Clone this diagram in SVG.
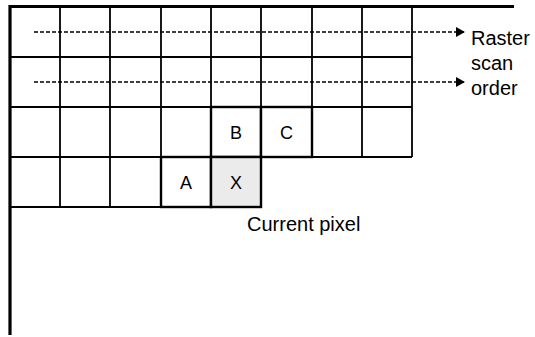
<svg xmlns="http://www.w3.org/2000/svg" width="535" height="337" viewBox="0 0 535 337">
<style>
.g{stroke:#000;stroke-width:1.8;fill:none}
.ax{stroke:#000;stroke-width:3.2;fill:none}
.cell{fill:#fff;stroke:#000;stroke-width:2.4}
.cur{fill:#ebebeb;stroke:#000;stroke-width:2.4}
.lbl{font-family:"Liberation Sans",Arial,sans-serif;font-size:18px;fill:#000;text-anchor:middle}
.txt{font-family:"Liberation Sans",Arial,sans-serif;font-size:20px;fill:#000}
.dash{stroke:#000;stroke-width:1.5;stroke-dasharray:4 2;fill:none}
</style>
<defs>
<marker id="ah" markerWidth="9" markerHeight="10" refX="9" refY="5" orient="auto" markerUnits="userSpaceOnUse">
<path d="M0,0 L9,5 L0,10 Z" fill="#000"/>
</marker>
</defs>
<g id="grid">
<path class="g" d="M10,57H412 M10,107H412 M10,157H412 M10,207H261 M60,7V207 M110,7V207 M161,7V207 M211,7V207 M261,7V207 M312,7V157 M362,7V157 M412,7V157"/>
<path class="ax" d="M8.5,6.5H514 M10,5V335"/>
</g>
<g id="cellB"><rect class="cell" x="211" y="107" width="50" height="50"/><text class="lbl" x="236" y="138.5">B</text></g>
<g id="cellC"><rect class="cell" x="261" y="107" width="51" height="50"/><text class="lbl" x="286.5" y="138.5">C</text></g>
<g id="cellA"><rect class="cell" x="161" y="157" width="50" height="50"/><text class="lbl" x="186" y="188.5">A</text></g>
<g id="cellX"><rect class="cur" x="211" y="157" width="50" height="50"/><text class="lbl" x="236" y="188.5">X</text></g>
<g id="connectors">
<line class="dash" x1="34" y1="32" x2="465" y2="32" marker-end="url(#ah)"/>
<line class="dash" x1="34" y1="82" x2="465" y2="82" marker-end="url(#ah)"/>
</g>
<g id="legend">
<text class="txt" x="471" y="45">Raster</text>
<text class="txt" x="471" y="70">scan</text>
<text class="txt" x="471" y="95">order</text>
</g>
<g id="current">
<text class="txt" x="247" y="231">Current pixel</text>
</g>
</svg>
